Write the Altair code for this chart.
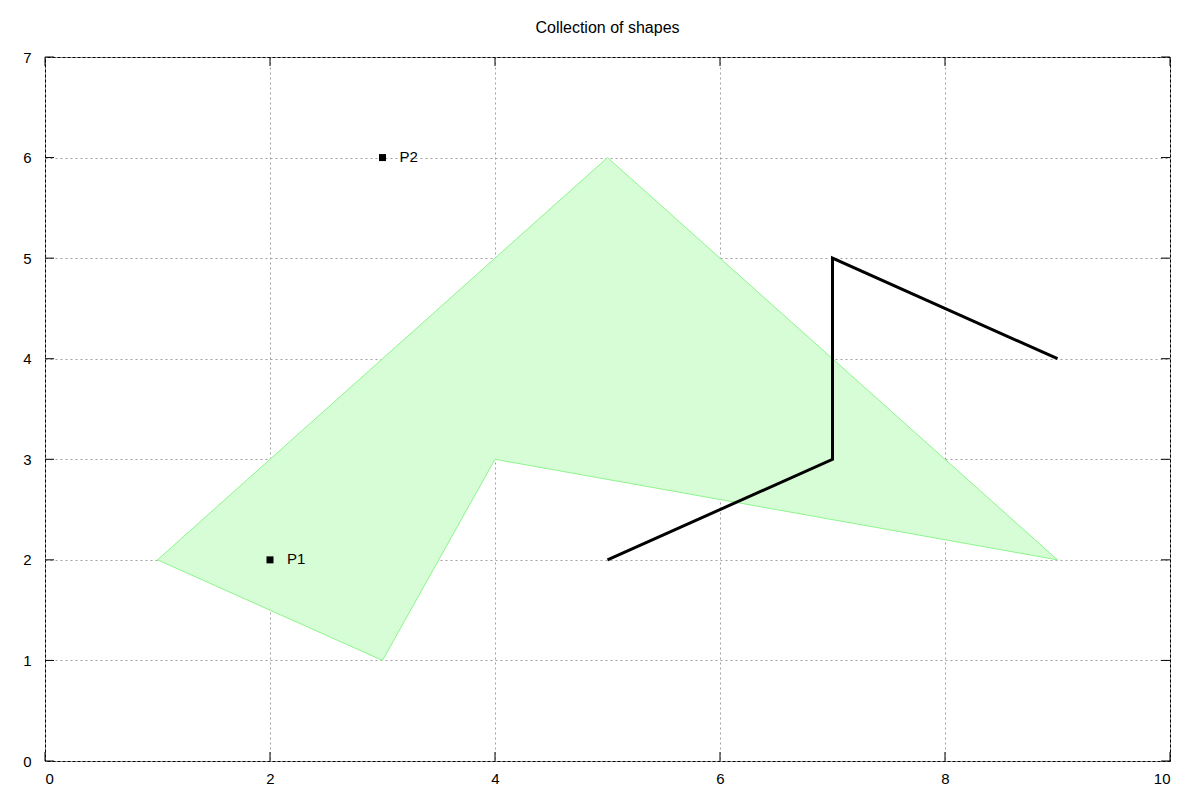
import pandas as pd
import altair as alt

# shapes
poly_x = [1, 5, 9, 4, 3, 1]
poly_y = [2, 6, 2, 3, 1, 2]
path_x = [5, 7, 7, 9]
path_y = [2, 3, 5, 4]
pts_x = [2, 3]
pts_y = [2, 6]
pts_label = ['P1', 'P2']

# axis ticks
x_ticks = [0, 2, 4, 6, 8, 10]
y_ticks = [0, 1, 2, 3, 4, 5, 6, 7]

W, H = 1125, 704
TICK = 9
FONT = 'Liberation Sans'

poly = pd.DataFrame({'x': poly_x, 'y': poly_y, 'o': range(len(poly_x))})
path = pd.DataFrame({'x': path_x, 'y': path_y, 'o': range(len(path_x))})
pts = pd.DataFrame({'x': pts_x, 'y': pts_y, 'label': pts_label})
xt = pd.DataFrame({'x': x_ticks})
yt = pd.DataFrame({'y': y_ticks})

xs = alt.Scale(domain=[0, 10], nice=False, zero=False)
ys = alt.Scale(domain=[0, 7], nice=False, zero=False)

x_axis = alt.Axis(values=x_ticks, title=None, grid=True, gridColor='#a0a0a0',
                  gridDash=[2, 3], ticks=False, domain=False, labelPadding=10,
                  labelFontSize=15, labelFont=FONT, labelColor='black')
y_axis = alt.Axis(values=y_ticks, title=None, grid=True, gridColor='#a0a0a0',
                  gridDash=[2, 3], ticks=False, domain=False, labelPadding=14,
                  labelFontSize=15, labelFont=FONT, labelColor='black')

X = alt.X('x:Q', scale=xs, axis=x_axis)
Y = alt.Y('y:Q', scale=ys, axis=y_axis)

shape = alt.Chart(poly).mark_line(fill='#d7fdd7', stroke='#8cf58c', strokeWidth=1).encode(
    x=X, y=Y, order='o:Q'
)

zigzag = alt.Chart(path).mark_line(color='black', strokeWidth=3).encode(
    x=X, y=Y, order='o:Q'
)

dots = alt.Chart(pts).mark_square(size=49, color='black', opacity=1).encode(x=X, y=Y)

labels = alt.Chart(pts).mark_text(align='left', baseline='middle', dx=17, dy=-1,
                                  fontSize=15, font=FONT, color='black').encode(
    x=X, y=Y, text='label'
)

# inward ticks, mirrored on all four sides
tick_bottom = alt.Chart(xt).mark_rule(color='black').encode(
    x=X, y=alt.value(H), y2=alt.value(H - TICK))
tick_top = alt.Chart(xt).mark_rule(color='black').encode(
    x=X, y=alt.value(0), y2=alt.value(TICK))
tick_left = alt.Chart(yt).mark_rule(color='black').encode(
    y=Y, x=alt.value(0), x2=alt.value(TICK))
tick_right = alt.Chart(yt).mark_rule(color='black').encode(
    y=Y, x=alt.value(W), x2=alt.value(W - TICK))

chart = alt.layer(
    shape, zigzag, dots, labels, tick_bottom, tick_top, tick_left, tick_right
).properties(
    width=W, height=H,
    background='white',
    title=alt.TitleParams('Collection of shapes', fontSize=16, font=FONT,
                          fontWeight='normal', color='black', anchor='middle', offset=14),
    autosize=alt.AutoSizeParams(type='none'),
    padding={'left': 37, 'top': 49, 'right': 22, 'bottom': 30}
).configure_view(
    stroke='black', strokeWidth=1
)

chart.save("out.html", embed_options={"renderer": "svg", "actions": False})
